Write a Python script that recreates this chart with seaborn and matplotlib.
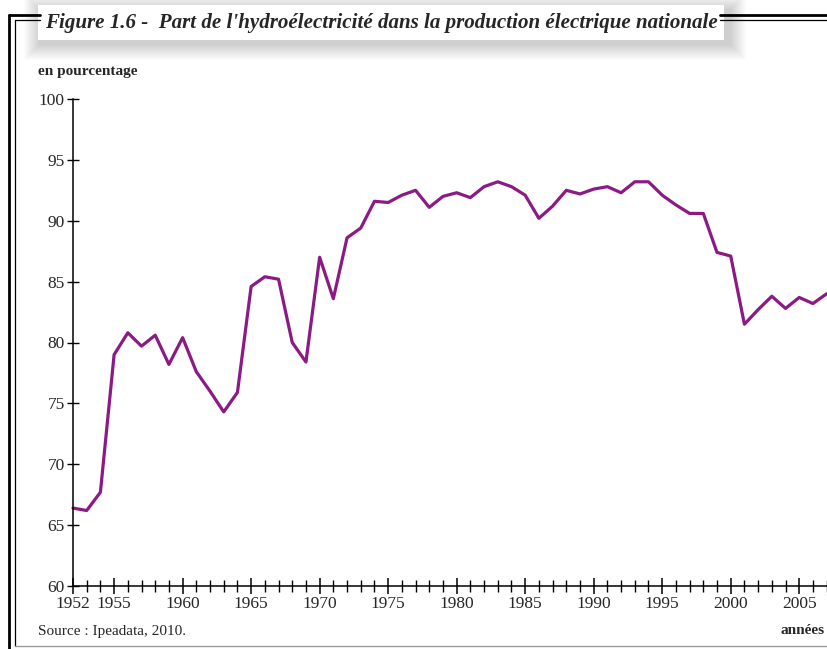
import matplotlib
matplotlib.use("Agg")
import matplotlib.pyplot as plt
import seaborn as sns
from matplotlib.lines import Line2D
from matplotlib.patches import Rectangle
from matplotlib.ticker import MultipleLocator

years = list(range(1952, 2008))
share = [
    66.4, 66.2, 67.7, 79.0, 80.8, 79.7, 80.6, 78.2, 80.4, 77.6,
    76.0, 74.3, 75.9, 84.6, 85.4, 85.2, 80.0, 78.4, 87.0, 83.6,
    88.6, 89.4, 91.6, 91.5, 92.1, 92.5, 91.1, 92.0, 92.3, 91.9,
    92.8, 93.2, 92.8, 92.1, 90.2, 91.2, 92.5, 92.2, 92.6, 92.8,
    92.3, 93.2, 93.2, 92.1, 91.3, 90.6, 90.6, 87.4, 87.1, 81.5,
    82.7, 83.8, 82.8, 83.7, 83.2, 84.0,
]
x_labels = [1952, 1955, 1960, 1965, 1970, 1975, 1980, 1985, 1990, 1995, 2000, 2005]
y_ticks = [60, 65, 70, 75, 80, 85, 90, 95, 100]

title = "Figure 1.6 -  Part de l'hydroélectricité dans la production électrique nationale"
line_color = "#8c1a84"

sns.set_theme(style="white")
plt.rcParams["font.family"] = ["Liberation Serif", "DejaVu Serif"]

W, H = 828, 649
fig = plt.figure(figsize=(W / 100, H / 100), dpi=100)


def fx(px):
    return px / W


def fy(py):
    return 1 - py / H


ax = fig.add_axes([fx(73), fy(586), fx(828) - fx(73), fy(99) - fy(586)])
sns.lineplot(x=years, y=share, color=line_color, linewidth=2.3, ax=ax, clip_on=False)

ax.set_xlim(1952, 2007.1)
ax.set_ylim(60, 100)
ax.set_xticks(x_labels)
ax.set_xticklabels([str(v) for v in x_labels])
ax.xaxis.set_minor_locator(MultipleLocator(1))
ax.set_yticks(y_ticks)
ax.set_yticklabels([str(v) for v in y_ticks])
ax.tick_params(axis="x", which="major", direction="inout", length=11, width=1.1,
               color="black", labelsize=12.5, pad=2, bottom=True)
ax.tick_params(axis="x", which="minor", direction="inout", length=8, width=1.0,
               color="black", bottom=True)
ax.tick_params(axis="y", which="major", direction="inout", length=8, width=1.0,
               color="black", labelsize=12.5, pad=2, left=True)
ax.set_xlabel("")
ax.set_ylabel("")
for side in ["top", "right"]:
    ax.spines[side].set_visible(False)
for side in ["left", "bottom"]:
    ax.spines[side].set_color("black")
    ax.spines[side].set_linewidth(1.1)
ax.set_facecolor("white")

# frame lines
def hline(y, x0, x1, lw, color="black"):
    fig.add_artist(Line2D([fx(x0), fx(x1)], [fy(y), fy(y)], lw=lw, color=color))


def vline(x, y0, y1, lw, color="black"):
    fig.add_artist(Line2D([fx(x), fx(x)], [fy(y0), fy(y1)], lw=lw, color=color))


vline(9, 15, 649, 2.0)
hline(15, 9, 40, 2.0)
hline(15, 720, 828, 2.0)
vline(15, 20, 646, 0.9)
hline(20, 15, 40, 0.9)
hline(20, 720, 828, 0.9)
hline(646, 15, 828, 1.0, color="#9a9a9a")

# title box with soft shadow
for i in range(16):
    grow = 16 - i
    fig.add_artist(Rectangle((fx(40 - grow), fy(44 + grow)), fx(690 + 2 * grow), fy(0) - fy(34 + 2 * grow),
                             facecolor="black", edgecolor="none", alpha=0.012))
fig.add_artist(Rectangle((fx(38), fy(40)), fx(686), fy(5) - fy(40),
                         facecolor="white", edgecolor="none"))
t = fig.text(fx(45), fy(23), title, fontsize=16, fontweight="bold", fontstyle="italic",
             ha="left", va="center")
fig.canvas.draw()
bb = t.get_window_extent()
t.set_fontsize(16 * 673 / bb.width)

fig.text(fx(38), fy(71), "en pourcentage", fontsize=11, fontweight="bold",
         ha="left", va="center")
fig.text(fx(38), fy(632), "Source : Ipeadata, 2010.", fontsize=11,
         ha="left", va="center")
fig.text(fx(825), fy(630), "années", fontsize=11, fontweight="bold",
         ha="right", va="center")

fig.savefig("out.png", dpi=100, facecolor="white")
